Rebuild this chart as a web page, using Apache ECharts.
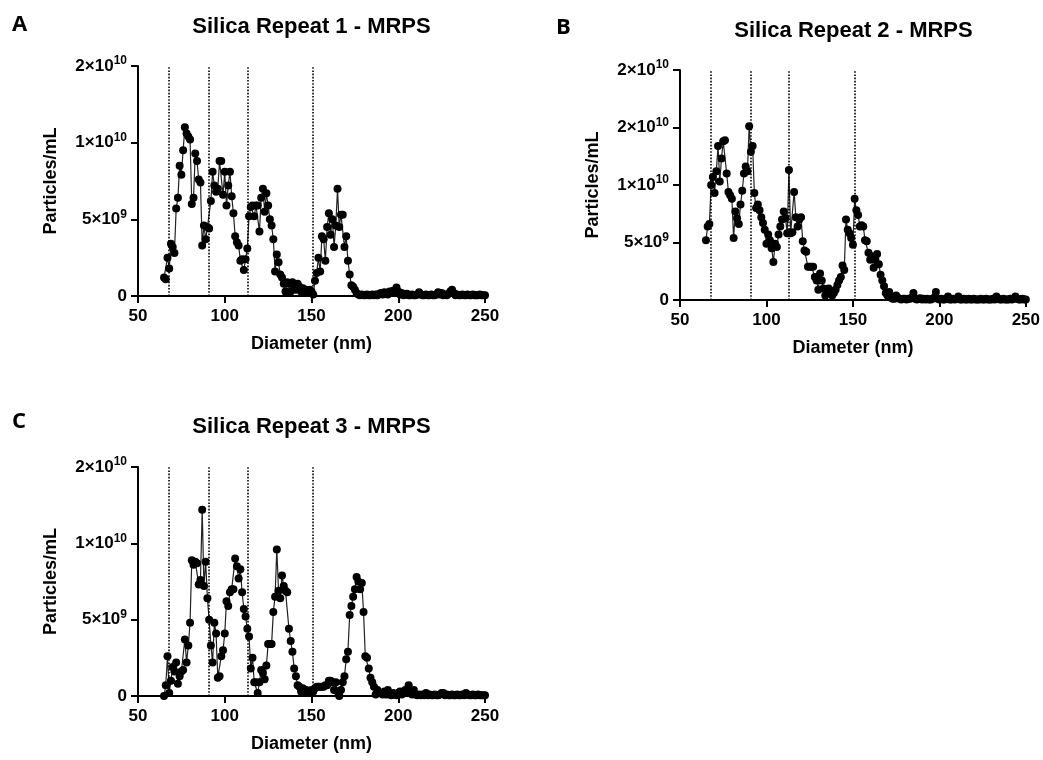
<!DOCTYPE html>
<html><head><meta charset="utf-8">
<script src="https://cdn.jsdelivr.net/npm/echarts@6/dist/echarts.min.js"></script>
<style>html,body{margin:0;padding:0;background:#fff}#chart{width:1043px;height:760px}</style>
</head><body><div id="chart"></div>
<script>
// Diameter bins: 1 nm steps starting at 65 nm (x positions of the bins)
const binStart = 65;
const binStep = 1;
// Concentrations in units of 1e9 particles/mL, bins 65..250 nm
const unit = 1e9;
const seriesA = [
  1.2, 1.1, 2.5, 1.8, 3.4, 3.2, 2.8, 5.7, 6.4, 8.5,
  7.9, 9.5, 11.0, 10.6, 10.4, 10.2, 6.0, 6.4, 9.3, 8.8,
  7.6, 7.4, 3.3, 4.6, 3.7, 4.5, 4.4, 6.2, 8.1, 7.2,
  6.8, 7.0, 8.8, 8.8, 6.6, 8.1, 5.9, 7.2, 8.1, 6.5,
  5.4, 3.9, 3.5, 3.3, 2.3, 2.4, 1.7, 2.4, 3.1, 5.2,
  5.8, 5.9, 5.2, 5.9, 5.9, 4.2, 6.4, 7.0, 5.5, 6.7,
  5.9, 5.0, 4.6, 3.7, 1.6, 2.7, 2.2, 1.4, 1.2, 0.8,
  0.3, 0.9, 0.8, 0.3, 0.9, 0.7, 0.4, 0.8, 0.6, 0.3,
  0.5, 0.2, 0.4, 0.2, 0.4, 0.3, 0.1, 1.0, 1.5, 2.5,
  1.6, 3.9, 3.7, 2.3, 4.5, 5.4, 4.0, 5.0, 3.2, 4.6,
  7.0, 4.5, 5.3, 5.3, 3.2, 3.9, 2.3, 1.4, 0.7, 0.6,
  0.4, 0.2, 0.1, 0.05, 0.1, 0.05, 0.05, 0.1, 0.05, 0.05,
  0.1, 0.05, 0.1, 0.05, 0.15, 0.2, 0.1, 0.25, 0.15, 0.1,
  0.3, 0.2, 0.35, 0.3, 0.55, 0.3, 0.1, 0.2, 0.05, 0.1,
  0.15, 0.05, 0.05, 0.1, 0.05, 0.05, 0.1, 0.25, 0.1, 0.05,
  0.05, 0.1, 0.05, 0.05, 0.1, 0.05, 0.05, 0.1, 0.25, 0.1,
  0.2, 0.05, 0.1, 0.05, 0.15, 0.3, 0.4, 0.2, 0.05, 0.1,
  0.05, 0.05, 0.1, 0.05, 0.05, 0.1, 0.05, 0.05, 0.1, 0.05,
  0.05, 0.05, 0.1, 0.05, 0.05, 0.05
];
const seriesB = [
  5.2, 6.4, 6.6, 10.0, 10.7, 9.3, 11.2, 13.4, 10.3, 12.3,
  13.8, 13.9, 11.0, 9.4, 9.1, 8.8, 5.4, 7.7, 7.1, 6.6,
  8.3, 9.5, 11.0, 11.6, 11.2, 15.1, 12.9, 13.4, 9.3, 8.0,
  8.3, 7.8, 7.2, 6.7, 6.1, 4.9, 5.7, 5.2, 4.5, 3.3,
  4.9, 4.6, 5.7, 6.4, 7.0, 7.7, 7.1, 5.8, 11.3, 5.8,
  5.9, 9.4, 7.2, 6.4, 7.0, 7.2, 5.1, 4.3, 4.2, 2.9,
  2.9, 2.9, 2.9, 2.0, 1.7, 0.9, 2.3, 1.7, 1.0, 0.4,
  0.9, 1.0, 0.7, 0.4, 0.6, 0.9, 1.3, 1.7, 2.0, 3.0,
  2.6, 7.0, 6.1, 5.8, 5.4, 4.8, 8.8, 7.8, 7.4, 6.4,
  6.5, 6.4, 5.2, 5.1, 4.1, 3.5, 3.8, 2.8, 3.5, 4.0,
  3.1, 2.2, 1.7, 1.2, 0.6, 0.4, 0.7, 0.2, 0.1, 0.1,
  0.4, 0.2, 0.1, 0.05, 0.1, 0.1, 0.05, 0.1, 0.1, 0.2,
  0.6, 0.1, 0.05, 0.1, 0.15, 0.05, 0.1, 0.05, 0.1, 0.05,
  0.05, 0.1, 0.2, 0.7, 0.1, 0.05, 0.1, 0.05, 0.05, 0.1,
  0.3, 0.05, 0.05, 0.1, 0.05, 0.1, 0.3, 0.05, 0.05, 0.1,
  0.05, 0.05, 0.1, 0.05, 0.05, 0.1, 0.05, 0.05, 0.05, 0.1,
  0.05, 0.05, 0.1, 0.05, 0.05, 0.05, 0.1, 0.05, 0.3, 0.1,
  0.05, 0.05, 0.1, 0.05, 0.05, 0.05, 0.1, 0.05, 0.1, 0.3,
  0.1, 0.05, 0.05, 0.1, 0.05, 0.05
];
const seriesC = [
  0.0, 0.7, 2.6, 0.2, 1.0, 1.9, 1.6, 2.2, 0.8, 1.3,
  1.6, 1.7, 3.7, 2.2, 3.3, 4.8, 8.9, 8.6, 8.8, 8.7,
  7.3, 7.6, 12.2, 7.2, 8.8, 6.4, 5.0, 3.3, 2.2, 4.8,
  4.1, 1.2, 1.3, 2.6, 3.0, 4.1, 6.2, 5.9, 6.8, 7.0,
  7.0, 9.0, 8.5, 7.7, 8.3, 6.8, 5.7, 5.2, 4.4, 3.9,
  1.8, 2.5, 0.9, 0.9, 0.2, 0.9, 1.7, 1.5, 1.1, 2.0,
  3.4, 3.4, 3.4, 5.5, 6.5, 9.6, 6.9, 6.4, 7.9, 7.2,
  6.9, 6.8, 4.4, 3.6, 2.9, 1.8, 1.3, 0.7, 0.6, 0.3,
  0.5, 0.3, 0.4, 0.2, 0.3, 0.4, 0.3, 0.5, 0.6, 0.6,
  0.6, 0.6, 0.6, 0.7, 0.7, 1.0, 1.0, 0.9, 0.4, 0.9,
  0.3, 0.0, 0.4, 0.9, 1.3, 2.4, 2.9, 5.3, 5.9, 6.5,
  7.0, 7.8, 7.5, 7.0, 7.4, 5.5, 2.6, 2.5, 1.8, 1.2,
  0.9, 0.6, 0.1, 0.4, 0.2, 0.2, 0.1, 0.3, 0.1, 0.4,
  0.1, 0.05, 0.2, 0.1, 0.05, 0.2, 0.3, 0.1, 0.2, 0.4,
  0.3, 0.7, 0.2, 0.1, 0.4, 0.1, 0.05, 0.1, 0.05, 0.1,
  0.05, 0.2, 0.05, 0.1, 0.05, 0.05, 0.1, 0.05, 0.05, 0.1,
  0.2, 0.2, 0.05, 0.1, 0.05, 0.05, 0.1, 0.05, 0.05, 0.1,
  0.05, 0.05, 0.1, 0.05, 0.2, 0.1, 0.05, 0.05, 0.1, 0.05,
  0.05, 0.1, 0.05, 0.05, 0.05, 0.05
];
const panelTitles = ['Silica Repeat 1 - MRPS', 'Silica Repeat 2 - MRPS', 'Silica Repeat 3 - MRPS'];
const panelLetters = ['A', 'B', 'C'];
const refDiameters = [68, 91, 113, 151];
const xMin = 50, xMax = 250, xInterval = 50;
const yInterval = 5e9;
const yMaxA = 1.5e10, yMaxB = 2e10, yMaxC = 1.5e10;
// Tick labels (mantissa, exponent) as printed in the figure
const yTickMantA = ['0', '5', '1', '2'];
const yTickExpA = ['', '9', '10', '10'];
const yTickMantB = ['0', '5', '1', '2', '2'];
const yTickExpB = ['', '9', '10', '10', '10'];
const xName = 'Diameter (nm)';
const yName = 'Particles/mL';

const FONT = '"Liberation Sans", Arial, Helvetica, sans-serif';

function toPairs(vals) {
  return vals.map((v, i) => [binStart + i * binStep, v * unit]);
}
function yFormatter(mant, exp) {
  return function (value) {
    const i = Math.round(value / yInterval);
    if (!exp[i]) return '{m|' + mant[i] + '}';
    return '{m|' + mant[i] + '×10}{s|' + exp[i] + '}';
  };
}
const richY = {
  m: { fontSize: 17, fontWeight: 'bold', fontFamily: FONT, color: '#000', lineHeight: 22 },
  s: { fontSize: 12, fontWeight: 'bold', fontFamily: FONT, color: '#000', verticalAlign: 'top', lineHeight: 14 }
};
const axisLine = { show: true, lineStyle: { color: '#000', width: 2 } };
const axisTick = { show: true, length: 7, lineStyle: { color: '#000', width: 2 } };

function xAxisFor(gi) {
  return {
    type: 'value', gridIndex: gi, min: xMin, max: xMax, interval: xInterval,
    axisLine: axisLine, axisTick: axisTick, splitLine: { show: false },
    axisLabel: { margin: 12, fontSize: 17, fontWeight: 'bold', fontFamily: FONT, color: '#000' },
    name: xName, nameLocation: 'middle', nameGap: 39,
    nameTextStyle: { fontSize: 18, fontWeight: 'bold', fontFamily: FONT, color: '#000' }
  };
}
function yAxisFor(gi, max, mant, exp) {
  return {
    type: 'value', gridIndex: gi, min: 0, max: max, interval: yInterval,
    axisLine: axisLine, axisTick: axisTick, splitLine: { show: false },
    axisLabel: { margin: 11, formatter: yFormatter(mant, exp), rich: richY },
    name: yName, nameLocation: 'middle', nameGap: 78,
    nameTextStyle: { fontSize: 18, fontWeight: 'bold', fontFamily: FONT, color: '#000' }
  };
}
function seriesFor(gi, vals) {
  return {
    type: 'line', xAxisIndex: gi, yAxisIndex: gi, data: toPairs(vals),
    symbol: 'circle', symbolSize: 8, showSymbol: true,
    itemStyle: { color: '#000' },
    lineStyle: { color: '#222', width: 1.2 },
    animation: false,
    markLine: {
      silent: true, symbol: ['none', 'none'], label: { show: false },
      lineStyle: { type: 'dotted', color: '#000', width: 1.6 },
      animation: false,
      data: refDiameters.map(d => ({ xAxis: d }))
    }
  };
}
const grids = [
  { left: 138, top: 66, width: 347, height: 230 },
  { left: 680, top: 70, width: 347, height: 230 },
  { left: 138, top: 467, width: 347, height: 229 }
];
const titleStyle = { fontSize: 22, fontWeight: 'bold', fontFamily: FONT, color: '#000' };
const chart = echarts.init(document.getElementById('chart'), null, { renderer: 'canvas' });
chart.setOption({
  backgroundColor: '#fff',
  animation: false,
  title: [
    { text: panelTitles[0], left: 311.5, top: 16, textAlign: 'center', padding: 0, textStyle: titleStyle },
    { text: panelTitles[1], left: 853.5, top: 20, textAlign: 'center', padding: 0, textStyle: titleStyle },
    { text: panelTitles[2], left: 311.5, top: 416, textAlign: 'center', padding: 0, textStyle: titleStyle }
  ],
  graphic: [
    { type: 'text', left: 12, top: 14, style: { text: panelLetters[0], font: 'bold 22px "Open Sans", sans-serif', fill: '#000' } },
    { type: 'text', left: 556, top: 17, style: { text: panelLetters[1], font: 'bold 22px "Open Sans", sans-serif', fill: '#000' } },
    { type: 'text', left: 12, top: 411, style: { text: panelLetters[2], font: 'bold 22px "Open Sans", sans-serif', fill: '#000' } }
  ],
  grid: grids,
  xAxis: [xAxisFor(0), xAxisFor(1), xAxisFor(2)],
  yAxis: [
    yAxisFor(0, yMaxA, yTickMantA, yTickExpA),
    yAxisFor(1, yMaxB, yTickMantB, yTickExpB),
    yAxisFor(2, yMaxC, yTickMantA, yTickExpA)
  ],
  series: [seriesFor(0, seriesA), seriesFor(1, seriesB), seriesFor(2, seriesC)]
});
</script>
</body></html>
